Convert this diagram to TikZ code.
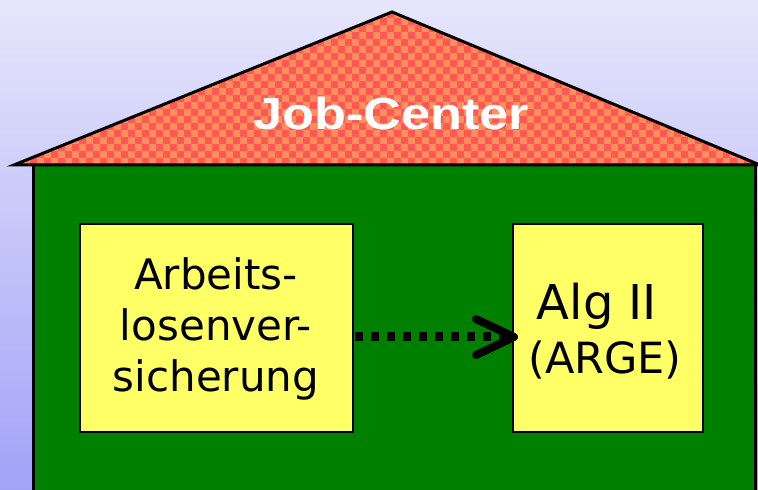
\documentclass[tikz,border=0pt]{standalone}
\usepackage{fontspec}
\setmainfont{DejaVu Sans}
\newfontfamily\libsans{Liberation Sans}
\usetikzlibrary{calc}
\definecolor{bgtop}{RGB}{230,230,251}
\definecolor{bgbot}{RGB}{162,162,248}
\definecolor{rooforange}{RGB}{255,142,92}
\definecolor{roofred}{RGB}{255,88,82}
\definecolor{housegreen}{RGB}{0,128,0}
\definecolor{boxyellow}{RGB}{255,255,102}
\begin{document}
\begin{tikzpicture}[x=1pt,y=1pt,
  ybox/.style={draw=black,line width=2,fill=boxyellow,inner sep=0pt},
  boxtext/.style={align=center,font=\fontsize{42}{51}\selectfont,inner sep=0pt},
  dotline/.style={line width=9,dash pattern=on 8 off 8,line cap=butt},
  chevron/.style={line width=8,line cap=round,line join=round}]
\useasboundingbox (0,0) rectangle (758,490);
\shade[top color=bgtop,bottom color=bgbot] (0,0) rectangle (758,490);
% house body
\draw[fill=housegreen,line width=3] (33,-10) rectangle (755,325);
% roof
\begin{scope}
\clip (14,325) -- (392,478) -- (760,325) -- cycle;
\fill[rooforange] (0,320) rectangle (770,480);
\foreach \i in {0,...,55}{\foreach \j in {0,...,11}{
  \fill[roofred] (\i*14+2,325+\j*14) rectangle ++(7,7);
  \fill[roofred] (\i*14+9,332+\j*14) rectangle ++(7,7);}}
\end{scope}
\draw[line width=3,line join=miter] (14,325) -- (392,478) -- (760,325) -- cycle;
\node[text=white,font=\libsans\bfseries\fontsize{45}{50}\selectfont,anchor=base] (title) at (391,360) {\scalebox{1.16}[1]{Job-Center}};
% boxes
\node[ybox,minimum width=273,minimum height=208] (arbbox) at (216.5,162) {};
\node[boxtext] (arbtext) at (216,161) {Arbeits-\\losenver-\\sicherung};
\node[ybox,minimum width=190,minimum height=208] (algbox) at (608,162) {};
\node[anchor=base,inner sep=0pt,font=\fontsize{48}{52}\selectfont] (alg) at (597,170) {Alg II};
\node[anchor=base,inner sep=0pt,font=\fontsize{43}{48}\selectfont] (arge) at (605,116) {(ARGE)};
% arrow
\coordinate (tip) at ($(algbox.west)+(2,-9)$);
\draw[dotline] ($(arbbox.east)+(1,-9)$) -- ($(tip)+(-10,0)$);
\draw[chevron] ($(tip)+(-38,18)$) -- (tip) -- ($(tip)+(-38,-18)$);
\end{tikzpicture}
\end{document}
